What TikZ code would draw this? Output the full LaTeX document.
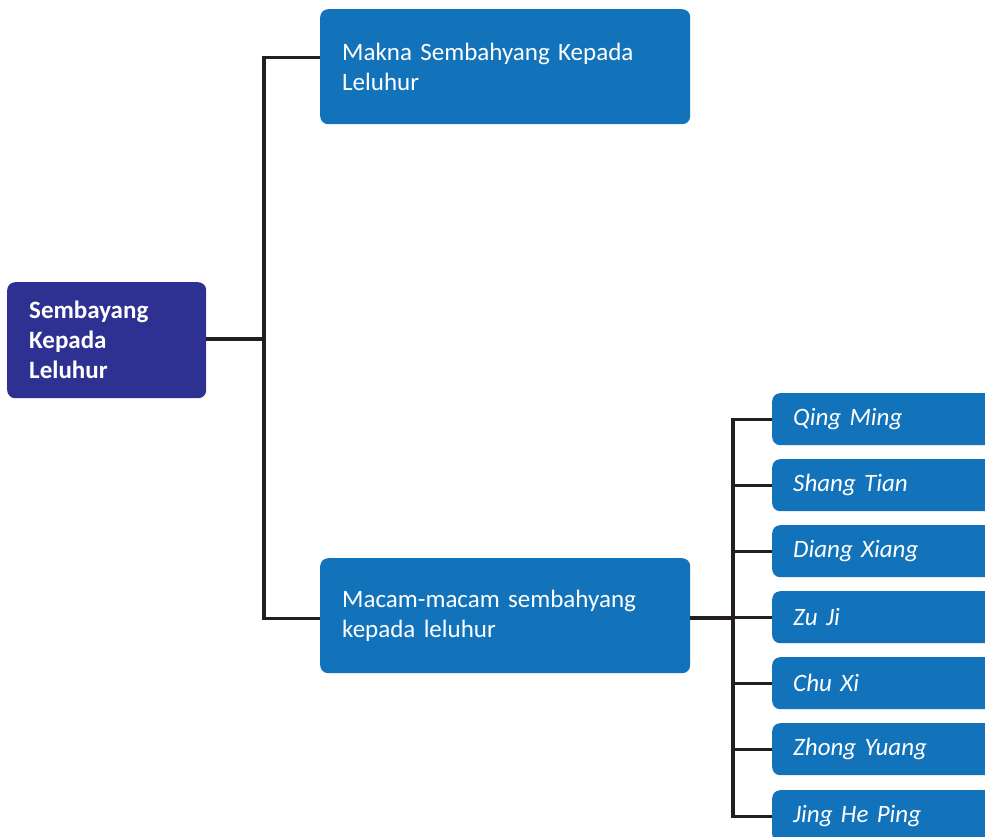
\documentclass[tikz,border=0pt]{standalone}
\usepackage{fontspec}
\setmainfont{Carlito}
\definecolor{rootblue}{HTML}{2E3192}
\definecolor{boxblue}{HTML}{1273BB}
\definecolor{linecol}{HTML}{231F20}
\begin{document}
\begin{tikzpicture}[x=1pt,y=-1pt,
  box/.style={rectangle, rounded corners=8pt, fill=boxblue, text=white, anchor=north west,
    align=left, inner ysep=0pt, font=\fontsize{25}{30}\selectfont},
  rootbox/.style={box, fill=rootblue, font=\bfseries\fontsize{25}{30}\selectfont},
  leaf/.style={box, minimum width=260pt, minimum height=52pt, inner xsep=21pt, text width=218pt,
    font=\itshape\fontsize{25}{30}\selectfont},
  conn/.style={draw=linecol, line width=3.3pt}]
\useasboundingbox (0,0) rectangle (985,837);
\clip (0,0) rectangle (985,837);
\node[rootbox, minimum width=199pt, minimum height=116pt, inner xsep=22pt, text width=155pt] (root) at (7,282) {Sembayang\\Kepada\\Leluhur};
\node[box, minimum width=370pt, minimum height=115pt, inner xsep=22pt, text width=326pt] (top) at (320,9) {Makna Sembahyang Kepada\\Leluhur};
\node[box, minimum width=370pt, minimum height=115pt, inner xsep=22pt, text width=326pt] (bot) at (320,558) {Macam-macam sembahyang\\kepada leluhur};
\node[leaf] (l1) at (772,393) {Qing Ming};
\node[leaf] (l2) at (772,459) {Shang Tian};
\node[leaf] (l3) at (772,525) {Diang Xiang};
\node[leaf] (l4) at (772,591) {Zu Ji};
\node[leaf] (l5) at (772,657) {Chu Xi};
\node[leaf] (l6) at (772,723) {Zhong Yuang};
\node[leaf] (l7) at (772,790) {Jing He Ping};
\coordinate (bus1) at (264,339);
\coordinate (bus2) at (733,618);
\draw[conn] (root.east |- bus1) -- (bus1);
\draw[conn] ([yshift=9.5pt]top.west) -- ([yshift=9.5pt]top.west -| bus1) -- ([yshift=-2.5pt]bot.west -| bus1) -- ([yshift=-2.5pt]bot.west);
\draw[conn] (bot.east |- bus2) -- (bus2);
\draw[conn] (l1.west) -- (l1.west -| bus2) -- (l7.west -| bus2) -- (l7.west);
\foreach \n in {l2,l3,l4,l5,l6} \draw[conn] (\n.west -| bus2) -- (\n.west);
\end{tikzpicture}
\end{document}
